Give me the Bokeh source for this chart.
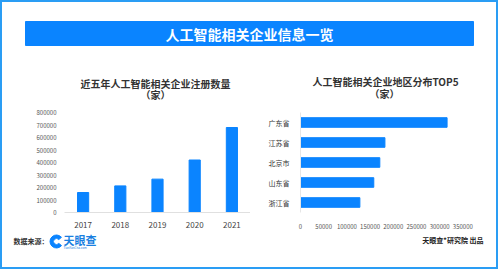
from bokeh.plotting import figure
from bokeh.layouts import column, row
from bokeh.models import FactorRange, Range1d, FixedTicker, NumeralTickFormatter
from bokeh.embed import file_html
from bokeh.resources import INLINE
from bokeh.core.properties import value

# ---- data ----
years = ["2017", "2018", "2019", "2020", "2021"]
registrations = [160000, 213000, 267000, 420000, 680000]
reg_ticks = [0, 100000, 200000, 300000, 400000, 500000, 600000, 700000, 800000]

provinces = ["广东省", "江苏省", "北京市", "山东省", "浙江省"]
province_counts = [316000, 182000, 171000, 158000, 128000]
province_ticks = [0, 50000, 100000, 150000, 200000, 250000, 300000, 350000]

main_title = "人工智能相关企业信息一览"
left_title = ["近五年人工智能相关企业注册数量", "（家）"]
right_title = ["人工智能相关企业地区分布TOP5", "（家）"]
source_label = "数据来源："
brand = "天眼查"
credit = "天眼查*研究院 出品"

FONT = "Noto Sans CJK SC"
BLUE = "#0a84ff"
BORDER = "#2a9df4"


def canvas(w, h, x0, x1, y0, y1):
    p = figure(width=w, height=h, x_range=Range1d(x0, x1), y_range=Range1d(y1, y0),
               toolbar_location=None, output_backend="svg", min_border=0)
    p.axis.visible = False
    p.grid.visible = False
    p.outline_line_color = None
    p.background_fill_color = "white"
    p.border_fill_color = "white"
    return p


def style_common(p):
    p.grid.visible = False
    p.outline_line_color = None
    p.background_fill_color = "white"
    p.border_fill_color = "white"
    for ax in p.axis:
        ax.major_tick_line_color = None
        ax.minor_tick_line_color = None
        ax.major_label_text_font = FONT


# ---- header ----
header = canvas(494, 102, 2, 496, 2, 104)
header.quad(left=25, right=473, top=21, bottom=45, color=BLUE)
header.text(x=[249], y=[33], text=[main_title], text_align="center", text_baseline="middle",
            text_font=value(FONT), text_font_size="14px", text_font_style="bold", text_color="white")
header.text(x=[155, 155], y=[83, 94], text=left_title, text_align="center", text_baseline="middle",
            text_font=value(FONT), text_font_size="10px", text_font_style="bold", text_color="#333333")
header.text(x=[385, 384], y=[81, 93], text=right_title, text_align="center", text_baseline="middle",
            text_font=value(FONT), text_font_size="10px", text_font_style="bold", text_color="#333333")

# ---- left chart ----
left = figure(width=248, height=128, x_range=FactorRange(factors=years), y_range=Range1d(0, 800000),
              toolbar_location=None, output_backend="svg",
              min_border_left=62, min_border_right=0, min_border_top=8, min_border_bottom=15)
left.vbar(x=years, top=registrations, width=0.3, color=BLUE)
style_common(left)
left.yaxis.ticker = FixedTicker(ticks=reg_ticks)
left.yaxis.formatter = NumeralTickFormatter(format="0")
left.yaxis.axis_line_color = None
left.yaxis.major_label_text_font_size = "6px"
left.yaxis.major_label_text_color = "#555555"
left.yaxis.major_label_standoff = 2
left.xaxis.axis_line_color = "#e0e0e0"
left.xaxis.major_label_text_font_size = "8px"
left.xaxis.major_label_text_color = "#444444"
left.xaxis.major_label_standoff = 3

# ---- right chart ----
right = figure(width=246, height=128, y_range=FactorRange(factors=provinces[::-1]),
               x_range=Range1d(0, 360000),
               toolbar_location=None, output_backend="svg",
               min_border_left=50, min_border_right=29, min_border_top=7, min_border_bottom=20)
right.hbar(y=provinces, right=province_counts, height=0.48, color=BLUE)
style_common(right)
right.xaxis.ticker = FixedTicker(ticks=province_ticks)
right.xaxis.formatter = NumeralTickFormatter(format="0")
right.xaxis.axis_line_color = None
right.xaxis.major_label_text_font_size = "6px"
right.xaxis.major_label_text_color = "#555555"
right.xaxis.major_label_standoff = 5
right.yaxis.axis_line_color = "#e6e6e6"
right.yaxis.major_label_text_font_size = "7px"
right.yaxis.major_label_text_color = "#333333"
right.yaxis.major_label_standoff = 5

# ---- footer ----
footer = canvas(494, 35, 2, 496, 232, 267)
footer.text(x=[13], y=[240], text=[source_label], text_align="left", text_baseline="middle",
            text_font=value(FONT), text_font_size="7px", text_font_style="bold", text_color="#333333")
footer.annular_wedge(x=[56], y=[241], inner_radius=3, outer_radius=6.5,
                     start_angle=0.7, end_angle=5.6, color=BLUE)
footer.text(x=[63], y=[239], text=[brand], text_align="left", text_baseline="middle",
            text_font=value(FONT), text_font_size="11px", text_font_style="bold", text_color="#1a7fe0")
footer.text(x=[63], y=[247.5], text=["TianYanCha.com"], text_align="left", text_baseline="middle",
            text_font=value(FONT), text_font_size="3px", text_color="#1a7fe0")
footer.text(x=[483], y=[239], text=[credit], text_align="right", text_baseline="middle",
            text_font=value(FONT), text_font_size="7px", text_font_style="bold", text_color="#222222")

layout = column(header, row(left, right), footer,
                styles={"border": "2px solid " + BORDER})

open("out.html", "w").write(file_html(layout, INLINE))
